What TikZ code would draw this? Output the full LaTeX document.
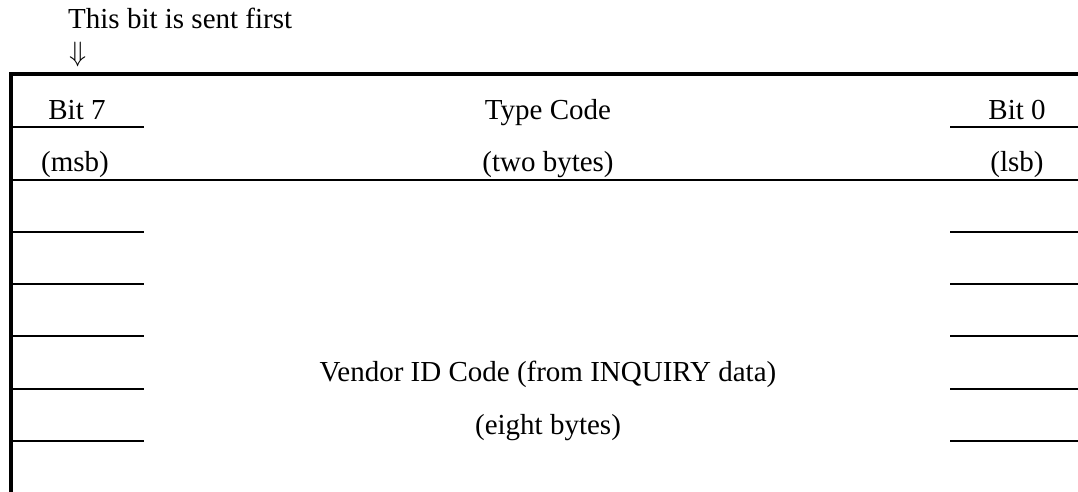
\RequirePackage{fix-cm}
\documentclass[tikz,border=0pt]{standalone}
\usepackage{fontspec}
\setmainfont{Liberation Serif}
\begin{document}
\begin{tikzpicture}[x=1pt,y=-1pt,
  txt/.style={inner sep=0pt,anchor=base,font=\fontsize{29}{34}\selectfont},
  border/.style={line width=4pt},
  rule/.style={line width=2pt}]
\useasboundingbox (0,0) rectangle (1078,492);
% outer border (left and top)
\draw[border] (11,492) -- (11,73.7) -- (1078,73.7);
% full-width rule under header rows
\draw[rule] (11,179.5) -- (1078,179.5);
% short rules left and right
\foreach \y in {127,231.8,284.1,336.4,388.7,441} {
  \draw[rule] (11,\y) -- (144,\y);
  \draw[rule] (950,\y) -- (1078,\y);
}
% texts
\node[txt,anchor=base west] (first) at (68,29) {This bit is sent first};
\node[inner sep=0pt,anchor=south west,font=\fontsize{28}{34}\selectfont] (arrow) at (69,67) {$\Downarrow$};
\node[txt] (bit7) at (77,119.3) {Bit 7};
\node[txt] (msb) at (75,171.5) {(msb)};
\node[txt] (type) at (548,119.3) {Type Code};
\node[txt] (two) at (548,171.5) {(two bytes)};
\node[txt] (bit0) at (1017,119.3) {Bit 0};
\node[txt] (lsb) at (1017,171.5) {(lsb)};
\node[txt] (vendor) at (548,381.7) {Vendor ID Code (from INQUIRY data)};
\node[txt] (eight) at (548,434) {(eight bytes)};
\end{tikzpicture}
\end{document}
